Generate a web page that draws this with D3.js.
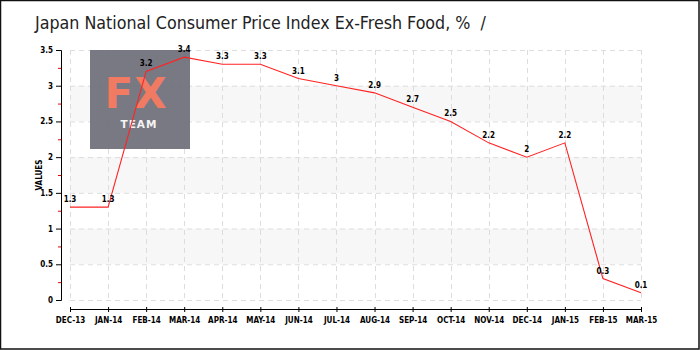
<!DOCTYPE html>
<html>
<head>
<meta charset="utf-8">
<script src="https://cdn.jsdelivr.net/npm/d3@7"></script>
<style>
  body { margin: 0; background: #fff; }
  svg { display: block; }
  .tick text { font-family: "DejaVu Sans Condensed", "DejaVu Sans", sans-serif; font-size: 8px; font-weight: bold; fill: #000; }
</style>
</head>
<body>
<div class="chart"></div>
<script>
var months = ["DEC-13", "JAN-14", "FEB-14", "MAR-14", "APR-14", "MAY-14", "JUN-14", "JUL-14",
    "AUG-14", "SEP-14", "OCT-14", "NOV-14", "DEC-14", "JAN-15", "FEB-15", "MAR-15"];
var values = [1.3, 1.3, 3.2, 3.4, 3.3, 3.3, 3.1, 3, 2.9, 2.7, 2.5, 2.2, 2, 2.2, 0.3, 0.1];
var yTicks = [0, 0.5, 1, 1.5, 2, 2.5, 3, 3.5];
var bands = [[0.5, 1], [1.5, 2], [2.5, 3]];

var width = 700, height = 350;

var svg = d3.select(".chart")
    .append("svg")
    .attr("width", width)
    .attr("height", height);

svg.append("rect")
    .attr("x", 0.5).attr("y", 0.5)
    .attr("width", width - 1.5).attr("height", height - 1.5)
    .attr("fill", "#fff")
    .attr("stroke", "#111")
    .attr("stroke-width", 1.5);

svg.append("text")
    .attr("x", 35)
    .attr("y", 29)
    .style("font-family", "'DejaVu Sans Condensed', 'DejaVu Sans', sans-serif")
    .style("font-size", "17.7px")
    .style("white-space", "pre")
    .style("fill", "#222")
    .text("Japan National Consumer Price Index Ex-Fresh Food, %  /");

var x = d3.scalePoint()
    .domain(months)
    .range([70, 641]);

var y = d3.scaleLinear()
    .domain([0, 3.5])
    .range([300, 50]);

// background bands
svg.selectAll(".band")
    .data(bands)
    .enter()
    .append("rect")
    .attr("class", "band")
    .attr("x", x(months[0]))
    .attr("y", function (d) { return y(d[1]); })
    .attr("width", x(months[months.length - 1]) - x(months[0]))
    .attr("height", function (d) { return y(d[0]) - y(d[1]); })
    .attr("fill", "#f7f7f7");

// grid
svg.selectAll(".hgrid")
    .data(yTicks)
    .enter()
    .append("line")
    .attr("x1", x(months[0]))
    .attr("x2", x(months[months.length - 1]))
    .attr("y1", function (d) { return y(d) + 0.5; })
    .attr("y2", function (d) { return y(d) + 0.5; })
    .attr("stroke", "#ddd")
    .attr("stroke-dasharray", "5,4");

svg.selectAll(".vgrid")
    .data(months)
    .enter()
    .append("line")
    .attr("x1", function (d) { return Math.round(x(d)) + 0.5; })
    .attr("x2", function (d) { return Math.round(x(d)) + 0.5; })
    .attr("y1", y(3.5))
    .attr("y2", y(0))
    .attr("stroke", "#ddd")
    .attr("stroke-dasharray", "5,4");

// watermark
var wm = svg.append("g");
wm.append("rect")
    .attr("x", 90).attr("y", 50)
    .attr("width", 100).attr("height", 99)
    .attr("fill", "#6e6e78")
    .attr("opacity", 0.92);
wm.append("text")
    .attr("x", 136).attr("y", 108)
    .attr("text-anchor", "middle")
    .style("font-family", "'DejaVu Sans', sans-serif")
    .style("font-size", "42px")
    .style("font-weight", "bold")
    .style("letter-spacing", "1px")
    .style("fill", "#f07a62")
    .text("FX");
wm.append("text")
    .attr("x", 139).attr("y", 128)
    .attr("text-anchor", "middle")
    .style("font-family", "'DejaVu Sans', sans-serif")
    .style("font-size", "10.5px")
    .style("font-weight", "bold")
    .style("letter-spacing", "1px")
    .style("fill", "#f4f4f4")
    .text("TEAM");

// y axis
var yAxis = svg.append("g")
    .attr("transform", "translate(61,0)")
    .call(d3.axisLeft(y).tickValues(yTicks).tickSize(5).tickFormat(d3.format("")));
yAxis.select(".domain").attr("stroke", "#000");
yAxis.selectAll("line").attr("stroke", "#000");

svg.selectAll(".minor")
    .data(yTicks.slice(0, -1))
    .enter()
    .append("line")
    .attr("x1", 58).attr("x2", 61)
    .attr("y1", function (d) { return y(d + 0.25) + 0.5; })
    .attr("y2", function (d) { return y(d + 0.25) + 0.5; })
    .attr("stroke", "#e00");

svg.append("text")
    .attr("transform", "translate(42,175) rotate(-90)")
    .attr("text-anchor", "middle")
    .style("font-family", "'DejaVu Sans Condensed', 'DejaVu Sans', sans-serif")
    .style("font-size", "8px")
    .style("font-weight", "bold")
    .text("VALUES");

// x axis
var xAxis = svg.append("g")
    .attr("transform", "translate(0,309)")
    .call(d3.axisBottom(x).tickSize(4).tickSizeOuter(0));
xAxis.select(".domain").attr("stroke", "#000");
xAxis.selectAll("line").attr("stroke", "#000").attr("y1", -2).attr("y2", 3);
xAxis.selectAll("text").attr("dy", "0.9em");

// line
var line = d3.line()
    .x(function (d, i) { return x(months[i]); })
    .y(function (d) { return y(d); });

svg.append("path")
    .datum(values)
    .attr("d", line)
    .attr("fill", "none")
    .attr("stroke", "#f22")
    .attr("stroke-width", 1.1);

svg.selectAll(".vlabel")
    .data(values)
    .enter()
    .append("text")
    .attr("x", function (d, i) { return x(months[i]); })
    .attr("y", function (d) { return y(d) - 5; })
    .attr("text-anchor", "middle")
    .style("font-family", "'DejaVu Sans Condensed', 'DejaVu Sans', sans-serif")
    .style("font-size", "8px")
    .style("font-weight", "bold")
    .text(function (d) { return d; });
</script>
</body>
</html>
